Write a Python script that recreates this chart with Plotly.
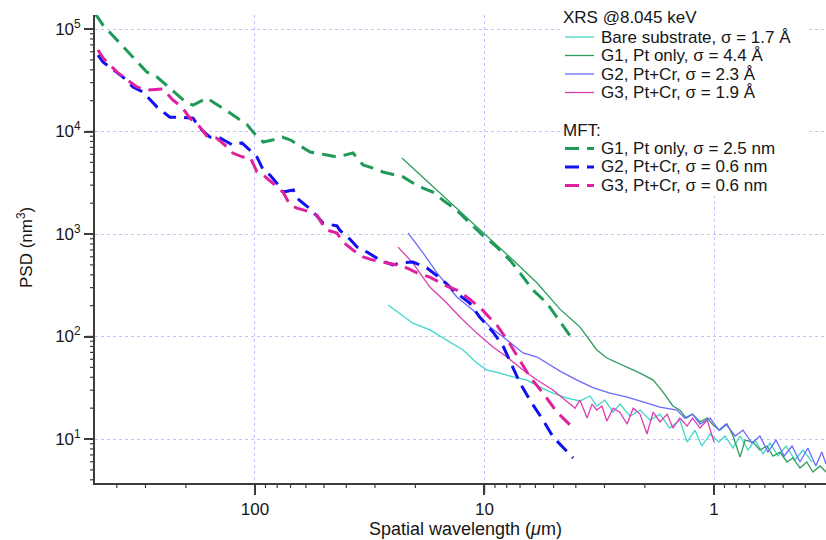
import math
import plotly.graph_objects as go

# ---------------- data (wavelength in um, PSD in nm^3) ----------------
bare_x = [26.3, 23.4, 20.5, 17.3, 14.6, 12.4, 10.8, 9.75, 8.55, 7.51, 6.53, 5.73, 5.03, 4.37, 3.84,
          3.47, 3.24, 2.99, 2.75, 2.57, 2.32, 2.10, 1.90, 1.72, 1.56, 1.41, 1.31, 1.21, 1.13, 1.04,
          0.952, 0.895, 0.826, 0.770, 0.711, 0.662, 0.611, 0.570, 0.526, 0.485, 0.444, 0.409, 0.374]
bare_y = [203, 169, 135, 116, 92.5, 73.9, 55.1, 47.1, 44.0, 40.3, 37.6, 32.1, 28.1, 25.1, 23.5,
          26.3, 21.0, 24.0, 18.3, 21.9, 16.7, 19.2, 15.3, 17.5, 12.8, 15.3, 9.35, 12.2, 8.55, 11.2,
          9.35, 10.7, 8.17, 10.7, 7.82, 9.77, 7.14, 9.13, 6.83, 8.55, 6.24, 7.82, 5.97]

xg1_x = [22.9, 10.2, 7.51, 5.90, 4.69, 3.84, 3.24, 2.93, 2.49, 2.10, 1.84, 1.67, 1.51, 1.41,
         1.32, 1.24, 1.15, 1.07, 1.0, 0.942, 0.877, 0.826, 0.770, 0.732, 0.676, 0.631, 0.588,
         0.553, 0.516, 0.481, 0.453, 0.422, 0.394, 0.371, 0.345, 0.325]
xg1_y = [5510, 1050, 557, 333, 185, 124, 73.9, 61.7, 52.7, 44.0, 37.6, 28.8, 21.0, 19.2,
         16.0, 17.5, 14.7, 16.0, 13.4, 12.2, 14.0, 10.7, 6.67, 9.77, 9.35, 7.82, 8.55,
         6.83, 7.46, 5.97, 6.53, 5.21, 5.97, 4.77, 5.46, 4.77]

xg2_x = [21.5, 18.5, 16.1, 13.2, 10.8, 9.46, 7.98, 6.79, 5.90, 4.69, 3.95, 3.37, 2.84, 2.39, 2.04,
         1.72, 1.45, 1.34, 1.24, 1.15, 1.04, 0.952, 0.887, 0.809, 0.748, 0.683, 0.631, 0.582,
         0.537, 0.495, 0.457, 0.422, 0.390, 0.360, 0.339, 0.325]
xg2_y = [1020, 653, 417, 243, 169, 124, 92.5, 69.1, 63.1, 46.0, 37.6, 31.8, 28.1, 25.7, 23.0,
         20.5, 19.2, 16.0, 17.5, 14.0, 16.0, 12.2, 14.0, 10.7, 12.2, 9.13, 10.7, 7.46,
         9.77, 6.83, 8.55, 5.97, 8.17, 5.46, 7.46, 5.71]

xg3_x = [23.8, 20.5, 17.3, 14.6, 12.8, 10.8, 9.19, 7.98, 6.79, 5.90, 5.03, 4.37, 4.03, 3.84,
         3.57, 3.40, 3.24, 3.08, 2.93, 2.75, 2.57, 2.39, 2.25, 2.10, 1.96, 1.84, 1.72, 1.60,
         1.51, 1.41, 1.31, 1.24, 1.15, 1.07, 1.0]
xg3_y = [746, 521, 304, 212, 155, 108, 79.0, 63.1, 47.1, 37.6, 30.1, 23.0, 20.0, 24.0,
         16.0, 21.9, 19.2, 21.0, 15.0, 20.0, 18.3, 14.0, 20.0, 17.5, 11.2, 18.3, 14.7, 17.5,
         12.8, 16.0, 13.4, 16.0, 12.8, 15.3, 9.35]

mg1_x = [495, 459, 399, 296, 267, 235, 198, 186, 162, 128, 108, 102, 92, 84, 76, 70, 61.8, 57.5,
         48.5, 43.9, 37.4, 33.8, 30.6, 27.7, 22.6, 20.5, 18.5, 16.8, 15.2, 13.2, 11.6, 10.2,
         8.83, 7.75, 7.0, 6.15, 5.35, 4.83, 4.11]
mg1_y = [140000, 109000, 78000, 38000, 34000, 26500, 19000, 18100, 21200, 15100, 11600, 9890,
         7900, 8270, 8830, 8270, 6900, 6310, 5900, 5640, 6170, 4710, 4400, 4030, 3600, 3150,
         2810, 2570, 2150, 1710, 1280, 977, 746, 557, 417, 284, 212, 155, 92.5]

mg2_x = [483, 459, 376, 340, 308, 267, 235, 208, 186, 174, 157, 142, 125, 114, 102, 98, 92, 86,
         77.8, 75.5, 68, 65.6, 58.8, 53.7, 50.6, 43.9, 42.7, 38.6, 35.9, 32.5, 28.5, 25.1, 23.4,
         20.5, 17.8, 15.6, 13.2, 11.6, 10.5, 9.19, 8.30, 7.51, 7.0, 6.34, 5.56, 5.03, 4.11]
mg2_y = [55700, 47600, 34000, 27200, 24300, 17300, 13800, 13800, 13500, 10800, 8830, 8640, 7390,
         7730, 6170, 5640, 4210, 3760, 2880, 2570, 2690, 2240, 1830, 1500, 1280, 1200, 1090, 893,
         746, 667, 557, 499, 521, 533, 466, 372, 265, 212, 155, 111, 80.7, 50.4, 35.2, 24.0,
         15.3, 10.5, 6.53]

mg3_x = [483, 459, 399, 361, 327, 296, 252, 228, 208, 192, 174, 162, 147, 132, 125, 113, 105, 98,
         92, 80, 75.5, 70.3, 65.6, 57.5, 53.7, 50.6, 48.5, 43.9, 41.4, 37.4, 33.8, 30.6, 27.7,
         24.0, 21.8, 19.7, 17.3, 14.6, 13.2, 11.6, 10.2, 8.83, 7.75, 7.0, 6.34, 5.56, 4.83, 4.11]
mg3_y = [62400, 52100, 38000, 31800, 27200, 25400, 26000, 20300, 17300, 13500, 11100, 9040, 8640,
         7060, 6170, 5640, 5640, 4030, 3760, 2880, 2570, 1920, 1790, 1640, 1530, 1220, 1090, 1020,
         836, 698, 597, 557, 533, 499, 466, 417, 380, 311, 284, 232, 181, 129, 84.6, 59.0, 40.3,
         28.1, 18.3, 12.8]

xrs_title = "XRS @8.045 keV"
mft_title = "MFT:"
xrs_names = ["Bare substrate, σ = 1.7 Å", "G1, Pt only, σ = 4.4 Å",
             "G2, Pt+Cr, σ = 2.3 Å", "G3, Pt+Cr, σ = 1.9 Å"]
mft_names = ["G1, Pt only, σ = 2.5 nm", "G2, Pt+Cr, σ = 0.6 nm", "G3, Pt+Cr, σ = 0.6 nm"]

y_tickvals = [10, 100, 1000, 10000, 100000]
y_ticktext = ["10<sup>1</sup>", "10<sup>2</sup>", "10<sup>3</sup>", "10<sup>4</sup>", "10<sup>5</sup>"]
x_tickvals = [1, 10, 100]
x_ticktext = ["1", "10", "100"]

FONT = "Liberation Sans, Arial, Helvetica, sans-serif"
TXT = "#161616"
AX = "#3c3c3c"

xrs_colors = ["#3ed8c8", "#2e9e5e", "#6a6aff", "#dc3cb4"]
mft_colors = ["#1f9a58", "#1010f0", "#e0209c"]
DASH = "14px,8px"

XR = [2.697, -0.488]
YR = [0.571, 5.137]

fig = go.Figure()

for (xx, yy), c, n in zip([(bare_x, bare_y), (xg1_x, xg1_y), (xg2_x, xg2_y), (xg3_x, xg3_y)],
                          xrs_colors, xrs_names):
    fig.add_trace(go.Scatter(x=xx, y=yy, mode="lines", name=n, showlegend=False,
                             line=dict(color=c, width=1.3)))

for (xx, yy), c, n in zip([(mg1_x, mg1_y), (mg2_x, mg2_y), (mg3_x, mg3_y)], mft_colors, mft_names):
    fig.add_trace(go.Scatter(x=xx, y=yy, mode="lines", name=n, showlegend=False,
                             line=dict(color=c, width=3, dash=DASH)))

axis_common = dict(
    type="log", showline=True, linecolor=AX, linewidth=1.8, mirror=False,
    ticks="outside", tickcolor=AX, tickwidth=1.5, automargin=False,
    showgrid=True, gridcolor="#c2c2ff", griddash="dot", gridwidth=1,
    zeroline=False, tickmode="array", tickfont=dict(size=17, color=TXT, family=FONT),
)

L, R, T, B = 95, 826, 15, 483
def px(x):
    return (x - L) / (R - L)
def py(y):
    return (B - y) / (B - T)

shapes = [dict(type="rect", xref="paper", yref="paper", x0=px(560), x1=px(806),
               y0=py(196), y1=py(6), fillcolor="white", line=dict(width=0), layer="above")]

# tick marks drawn explicitly at the axis values (data coordinates on the log axes)
for k in range(-1, 6):
    for m in range(1, 10):
        v = m * 10 ** k
        lv = math.log10(v)
        major = (m == 1)
        if min(XR) <= lv <= max(XR):
            ln = 10 if major else 5
            shapes.append(dict(type="line", xref="x", yref="paper", x0=v, x1=v,
                               y0=py(B + 0.5), y1=py(B + ln), layer="above",
                               line=dict(color=AX, width=1.5 if major else 1.2)))
        if min(YR) <= lv <= max(YR):
            ln = 9 if major else 5
            shapes.append(dict(type="line", xref="paper", yref="y", y0=v, y1=v,
                               x0=px(L - 0.5), x1=px(L - ln), layer="above",
                               line=dict(color=AX, width=1.5 if major else 1.2)))

annotations = [
    dict(text="Spatial wavelength (<i>μ</i>m)", xref="paper", yref="paper", x=px(465), y=py(529),
         xanchor="center", yanchor="middle", showarrow=False, font=dict(size=18, color=TXT, family=FONT)),
    dict(text="PSD (nm<sup>3</sup>)", xref="paper", yref="paper", x=px(25), y=py(248), textangle=-90,
         xanchor="center", yanchor="middle", showarrow=False, font=dict(size=17, color=TXT, family=FONT)),
]

def legend_text(t, xpix, ypix):
    annotations.append(dict(text=t, xref="paper", yref="paper", x=px(xpix), y=py(ypix),
                            xanchor="left", yanchor="middle", showarrow=False,
                            font=dict(size=17, color=TXT, family=FONT)))

legend_text(xrs_title, 561, 18)
for i, (n, c) in enumerate(zip(xrs_names, xrs_colors)):
    yrow = 37 + i * 18.5
    shapes.append(dict(type="line", xref="paper", yref="paper", x0=px(565), x1=px(594),
                       y0=py(yrow), y1=py(yrow), line=dict(color=c, width=1.3), layer="above"))
    legend_text(n, 599, yrow)

legend_text(mft_title, 561, 130)
for i, (n, c) in enumerate(zip(mft_names, mft_colors)):
    yrow = 148.5 + i * 18.5
    shapes.append(dict(type="line", xref="paper", yref="paper", x0=px(565), x1=px(594),
                       y0=py(yrow), y1=py(yrow), line=dict(color=c, width=3, dash=DASH), layer="above"))
    legend_text(n, 599, yrow)

fig.update_layout(
    template="none",
    width=826, height=540,
    margin=dict(l=L, r=826 - R, t=T, b=540 - B, pad=0),
    paper_bgcolor="white", plot_bgcolor="white",
    font=dict(family=FONT, color=TXT),
    showlegend=False,
    xaxis=dict(**axis_common, range=XR, ticklen=10, tickvals=x_tickvals, ticktext=x_ticktext),
    yaxis=dict(**axis_common, range=YR, ticklen=9, tickvals=y_tickvals, ticktext=y_ticktext),
    shapes=shapes, annotations=annotations,
)

fig.write_html("out.html", config={"displayModeBar": False},
               post_script="document.body.style.margin='0px';document.body.style.overflow='hidden';")
